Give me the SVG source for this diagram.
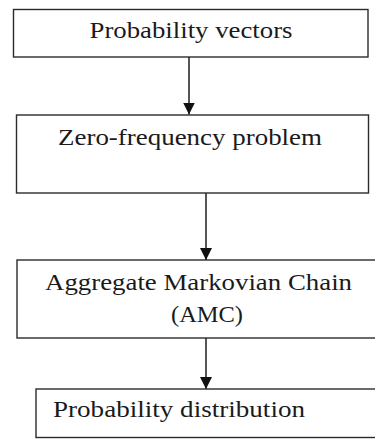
<svg xmlns="http://www.w3.org/2000/svg" width="375" height="439" viewBox="0 0 375 439">
  <style>
    .box { fill: #ffffff; stroke: #2b2b2b; stroke-width: 1.4; }
    .label { font-family: "Liberation Serif", "Times New Roman", serif; font-size: 22.5px; fill: #1a1a1a; }
    .edge { stroke: #2b2b2b; stroke-width: 1.6; fill: none; }
  </style>
  <defs>
    <marker id="arrow" viewBox="0 0 12 12" refX="12" refY="6" markerWidth="12" markerHeight="12" markerUnits="userSpaceOnUse" orient="auto">
      <path d="M0,0 L12,6 L0,12 Z" fill="#111111"/>
    </marker>
  </defs>
  <rect width="375" height="439" fill="#ffffff"/>

  <g id="connectors">
    <line class="edge" x1="189" y1="57" x2="189" y2="114.5" marker-end="url(#arrow)"/>
    <line class="edge" x1="206" y1="193" x2="206" y2="260" marker-end="url(#arrow)"/>
    <line class="edge" x1="206" y1="338" x2="206" y2="389" marker-end="url(#arrow)"/>
  </g>

  <g id="node-probability-vectors">
    <rect class="box" x="13.5" y="9.5" width="354.5" height="47.5"/>
    <text class="label" x="191" y="38" text-anchor="middle" textLength="203" lengthAdjust="spacingAndGlyphs">Probability vectors</text>
  </g>

  <g id="node-zero-frequency">
    <rect class="box" x="16.5" y="115" width="352" height="78"/>
    <text class="label" x="190" y="145" text-anchor="middle" textLength="264" lengthAdjust="spacingAndGlyphs">Zero-frequency problem</text>
  </g>

  <g id="node-amc">
    <rect class="box" x="17" y="260" width="362" height="78"/>
    <text class="label" x="198.5" y="290" text-anchor="middle" textLength="307" lengthAdjust="spacingAndGlyphs">Aggregate Markovian Chain</text>
    <text class="label" x="207" y="322" text-anchor="middle" textLength="72" lengthAdjust="spacingAndGlyphs">(AMC)</text>
  </g>

  <g id="node-probability-distribution">
    <rect class="box" x="36" y="389" width="345" height="48.5"/>
    <text class="label" x="53" y="417" textLength="252" lengthAdjust="spacingAndGlyphs">Probability distribution</text>
  </g>
</svg>
